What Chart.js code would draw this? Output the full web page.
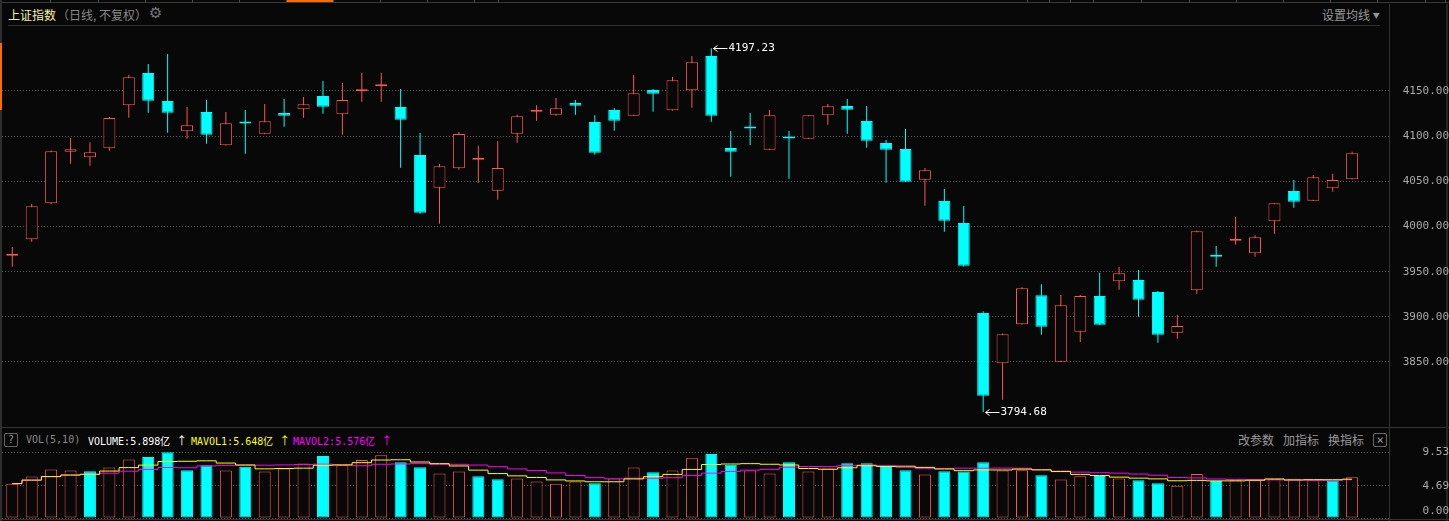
<!DOCTYPE html>
<html lang="zh-CN">
<head>
<meta charset="utf-8">
<title>上证指数（日线，不复权）</title>
<script src="https://cdn.jsdelivr.net/npm/chart.js@4/dist/chart.umd.min.js"></script>
<style>
  html, body { margin: 0; padding: 0; }
  body {
    width: 1449px; height: 521px; overflow: hidden; position: relative;
    background: #080808;
    font-family: "Noto Sans CJK SC", "DejaVu Sans", sans-serif;
  }
  .line { position: absolute; background: #333; }
  .txt { position: absolute; white-space: nowrap; line-height: 14px; font-size: 12px; }
  .mono { font-family: "DejaVu Sans Mono", monospace; font-size: 10px; }
  .arr { font-family: "Noto Sans CJK SC", sans-serif; font-size: 11px; }
  .box {
    position: absolute; box-sizing: border-box; border: 1px solid #666; border-radius: 2px;
    color: #999; font-size: 10px; line-height: 12px; text-align: center;
    font-family: "DejaVu Sans Mono", monospace;
  }
  canvas { position: absolute; left: 0; }
  #priceCanvas { top: 23px; }
  #volCanvas { top: 407px; }
</style>
</head>
<body>
<div id="tabs"></div>
<div class="line" style="left:0;top:0;width:2px;height:521px;background:#2e2e2e"></div>
<div class="line" style="left:0;top:43px;width:2px;height:67px;background:#ff6a00"></div>

<div class="txt" style="left:8px;top:8px;color:#f4f0a0">上证指数</div>
<div class="txt" style="left:57px;top:8px;color:#888">（日线, 不复权）</div>
<div class="txt" style="left:149px;top:6px;font-size:15px;color:#777;font-family:'DejaVu Sans'">⚙</div>
<div class="txt" style="left:1322px;top:8px;color:#999">设置均线 <span style="font-size:7px;vertical-align:2px">▼</span></div>
<div class="line" style="left:8px;top:25px;width:1372px;height:1px"></div>

<div class="line" style="left:0;top:427px;width:1449px;height:1px"></div>
<div class="box" style="left:4px;top:433px;width:14px;height:14px">?</div>
<div class="txt mono" style="left:26px;top:433px;color:#8a8a8a">VOL(5,10)</div>
<div class="txt mono" style="left:88px;top:433px;color:#ffffff">VOLUME:5.898亿 <span class="arr">↑</span></div>
<div class="txt mono" style="left:191px;top:433px;color:#ffff00">MAVOL1:5.648亿 <span class="arr">↑</span></div>
<div class="txt mono" style="left:293px;top:433px;color:#ff00ff">MAVOL2:5.576亿 <span class="arr">↑</span></div>
<div class="txt" style="left:1238px;top:433px;color:#999">改参数</div>
<div class="txt" style="left:1283px;top:433px;color:#999">加指标</div>
<div class="txt" style="left:1328px;top:433px;color:#999">换指标</div>
<div class="box" style="left:1373px;top:433px;width:14px;height:14px;font-size:12px">×</div>

<div class="line" style="left:1389px;top:4px;width:1px;height:517px"></div>
<div class="line" style="left:1446px;top:4px;width:2px;height:517px;background:#262626"></div>
<div class="line" style="left:0;top:519px;width:1449px;height:1px"></div>

<canvas id="priceCanvas" width="1449" height="414"></canvas>
<canvas id="volCanvas" width="1449" height="156"></canvas>

<script>
// 日K线数据（开、高、低、收），成交量单位：亿
const opens = [
  3967.5, 3985.8, 4025.7, 4082.8, 4076.6, 4086.6, 4134.2, 4169.9, 4138.9, 4105.4,
  4126.8, 4089.9, 4115.5, 4102.7, 4125.6, 4129.7, 4144.5, 4124.2, 4149.7, 4155.2,
  4132.3, 4079.2, 4042.9, 4064.4, 4074.0, 4039.6, 4102.7, 4127.0, 4123.8, 4136.7,
  4115.7, 4129.0, 4122.7, 4151.1, 4128.6, 4150.8, 4188.7, 4086.9, 4109.6, 4085.0,
  4098.5, 4097.2, 4123.1, 4133.4, 4116.8, 4092.4, 4085.8, 4051.8, 4028.2, 4003.9,
  3904.2, 3848.6, 3891.7, 3923.8, 3850.3, 3883.5, 3923.1, 3939.3, 3940.8, 3927.5,
  3882.4, 3929.4, 3967.5, 3984.3, 3970.3, 4005.8, 4039.3, 4028.6, 4042.3, 4052.3
];
const highs = [
  3977.3, 4024.9, 4084.0, 4098.0, 4093.2, 4121.2, 4167.7, 4179.9, 4191.0, 4132.3,
  4140.0, 4126.8, 4129.0, 4135.6, 4141.1, 4143.4, 4161.1, 4158.9, 4169.9, 4169.9,
  4152.2, 4103.5, 4069.2, 4104.6, 4089.4, 4094.6, 4123.8, 4134.2, 4142.3, 4140.0,
  4123.1, 4131.2, 4167.7, 4152.2, 4165.5, 4188.7, 4197.23, 4105.7, 4125.6, 4129.0,
  4105.7, 4123.5, 4135.6, 4141.1, 4133.4, 4095.8, 4107.9, 4064.8, 4041.5, 4022.7,
  3906.1, 3881.5, 3932.7, 3936.0, 3924.2, 3924.2, 3948.9, 3955.2, 3951.8, 3928.6,
  3902.4, 3995.5, 3978.4, 4010.5, 3990.3, 4026.0, 4051.5, 4057.0, 4058.5, 4082.8
];
const lows = [
  3955.5, 3983.2, 4025.0, 4069.5, 4067.3, 4083.9, 4120.4, 4126.0, 4103.8, 4097.2,
  4091.7, 4089.5, 4080.6, 4102.2, 4110.5, 4120.4, 4124.9, 4101.6, 4138.2, 4138.2,
  4065.1, 4014.2, 4003.1, 4062.9, 4048.5, 4029.7, 4092.8, 4117.1, 4122.7, 4123.8,
  4079.5, 4106.1, 4122.2, 4127.1, 4128.2, 4131.5, 4116.0, 4055.1, 4090.2, 4084.6,
  4052.9, 4096.8, 4112.7, 4102.7, 4087.2, 4048.5, 4049.3, 4023.0, 3994.2, 3955.5,
  3794.68, 3808.3, 3891.3, 3880.2, 3849.9, 3872.1, 3890.9, 3930.0, 3900.1, 3871.4,
  3875.8, 3925.6, 3955.5, 3979.9, 3966.6, 3992.0, 4020.8, 4028.2, 4038.5, 4052.0
];
const closes = [
  3968.5, 4022.4, 4083.2, 4085.5, 4082.1, 4120.1, 4165.2, 4139.3, 4126.0, 4112.0,
  4101.6, 4114.2, 4113.9, 4116.5, 4122.7, 4135.3, 4132.6, 4140.0, 4151.1, 4157.4,
  4118.2, 4015.3, 4066.6, 4102.4, 4075.5, 4064.8, 4122.0, 4128.0, 4130.8, 4133.7,
  4081.7, 4117.1, 4147.4, 4147.0, 4161.8, 4181.8, 4122.7, 4082.8, 4108.5, 4123.1,
  4097.5, 4123.1, 4133.1, 4129.3, 4095.0, 4085.0, 4049.6, 4062.2, 4006.4, 3956.6,
  3812.7, 3880.7, 3931.6, 3889.1, 3912.8, 3923.1, 3891.3, 3948.2, 3919.0, 3880.2,
  3889.9, 3994.7, 3966.5, 3986.5, 3988.0, 4025.7, 4027.5, 4054.5, 4051.5, 4081.0
];
const volumes = [
  4.98, 6.01, 7.03, 6.89, 6.79, 7.33, 8.50, 8.84, 9.53, 6.93,
  7.67, 6.89, 7.42, 6.74, 7.18, 7.91, 8.98, 7.67, 8.40, 9.09,
  8.10, 7.37, 6.45, 6.74, 6.05, 5.61, 5.72, 5.28, 4.98, 5.28,
  5.03, 5.72, 7.33, 6.64, 6.89, 8.65, 9.28, 7.71, 6.89, 6.45,
  8.10, 6.74, 7.18, 7.96, 7.96, 7.56, 6.93, 6.30, 6.79, 6.74,
  8.10, 6.89, 6.93, 6.20, 5.57, 6.05, 6.10, 5.72, 5.47, 5.03,
  4.69, 6.39, 5.36, 5.47, 5.47, 5.64, 5.68, 5.54, 5.43, 5.898
];
const priceTicks = [3850, 3900, 3950, 4000, 4050, 4100, 4150];
const volTicks = [0, 4.69, 9.53];

// 颜色和布局
const BG = '#080808';
const UP = '#ff5555';
const DOWN = '#00ffff';
const GRID = '#555555';
const AXIS_TEXT = '#a8a8a8';
const AXIS_W = 60;
const X_MIN = -0.53;
const X_MAX = 70.9;

// 顶部标签栏的分隔线
const tabEdges = [50, 98, 145, 192, 239, 286, 333, 380, 427, 474, 498,
  1027, 1049, 1070, 1093, 1141, 1189, 1236, 1283, 1330, 1377, 1425, 1445];
const tabs = document.getElementById('tabs');
tabs.innerHTML = '<div class="line" style="left:0;top:2px;width:1449px;height:1px;background:#3a3a3a"></div>' +
  '<div class="line" style="left:287px;top:0;width:46px;height:2px;background:#ff6a00"></div>' +
  tabEdges.map(x => '<div class="line" style="left:' + x + 'px;top:0;width:1px;height:3px;background:#4a4a4a"></div>').join('');

const idx = closes.map((_, i) => i);
const isUp = i => closes[i] >= opens[i];
const volUp = i => i === 0 || closes[i] >= closes[i - 1];

function movingAverage(values, n) {
  return values.map((_, i) => {
    const win = values.slice(Math.max(0, i - n + 1), i + 1);
    return win.reduce((a, b) => a + b, 0) / win.length;
  });
}
const ma5 = movingAverage(volumes, 5);
const ma10 = movingAverage(volumes, 10);

function xAxis() {
  return { type: 'linear', display: false, min: X_MIN, max: X_MAX, bounds: 'data', offset: false };
}
function gridStyle() {
  return { color: GRID, drawTicks: false, lineWidth: 1 };
}
const tickFont = { family: 'DejaVu Sans Mono', size: 11 };

// 最高价 / 最低价标注
const extremeLabels = {
  id: 'extremeLabels',
  afterDatasetsDraw(chart) {
    const xs = chart.scales.x, ys = chart.scales.y, ctx = chart.ctx;
    const hi = highs.indexOf(Math.max(...highs));
    const lo = lows.indexOf(Math.min(...lows));
    ctx.save();
    ctx.strokeStyle = '#ffffff';
    ctx.fillStyle = '#ffffff';
    ctx.lineWidth = 1;
    ctx.font = '11px "DejaVu Sans Mono"';
    ctx.textBaseline = 'middle';
    [[hi, highs[hi]], [lo, lows[lo]]].forEach(([i, v]) => {
      const x = Math.round(xs.getPixelForValue(i)) + 2.5;
      const y = Math.round(ys.getPixelForValue(v)) + 0.5;
      ctx.beginPath();
      ctx.moveTo(x + 14, y);
      ctx.lineTo(x, y);
      ctx.moveTo(x + 4, y - 3);
      ctx.lineTo(x, y);
      ctx.lineTo(x + 4, y + 3);
      ctx.stroke();
      ctx.fillText(v.toFixed(2), x + 15, y);
    });
    ctx.restore();
  }
};

// K线图：绘图区 y 43..417
new Chart(document.getElementById('priceCanvas'), {
  type: 'bar',
  data: {
    datasets: [{
      label: '实体',
      order: 0,
      data: idx.map(i => ({ x: i, y: [Math.min(opens[i], closes[i]), Math.max(opens[i], closes[i])] })),
      backgroundColor: idx.map(i => isUp(i) ? BG : DOWN),
      borderColor: idx.map(i => isUp(i) ? UP : DOWN),
      borderWidth: 1,
      borderSkipped: false,
      barThickness: 12,
      minBarLength: 2,
      grouped: false,
      inflateAmount: 0
    }, {
      label: '影线',
      order: 1,
      data: idx.map(i => ({ x: i, y: [lows[i], highs[i]] })),
      backgroundColor: idx.map(i => isUp(i) ? UP : DOWN),
      borderWidth: 0,
      barThickness: 1,
      grouped: false,
      inflateAmount: 0
    }]
  },
  options: {
    responsive: false,
    animation: false,
    devicePixelRatio: 1,
    events: [],
    layout: { padding: { left: 2, right: 0, top: 20, bottom: 20 } },
    plugins: { legend: { display: false }, tooltip: { enabled: false } },
    scales: {
      x: xAxis(),
      y: {
        position: 'right',
        min: 3789.1,
        max: 4203.1,
        bounds: 'data',
        afterFit: s => { s.width = AXIS_W; },
        afterBuildTicks: s => { s.ticks = priceTicks.map(v => ({ value: v })); },
        grid: gridStyle(),
        border: { display: false, dash: [1, 2] },
        ticks: {
          color: AXIS_TEXT, font: tickFont, padding: 6, crossAlign: 'far',
          callback: v => Number(v).toFixed(2)
        }
      }
    }
  },
  plugins: [extremeLabels]
});

// 成交量图：绘图区 y 447..518
new Chart(document.getElementById('volCanvas'), {
  type: 'bar',
  data: {
    datasets: [{
      type: 'line',
      label: 'MAVOL1',
      order: 0,
      data: idx.map(i => ({ x: i, y: ma5[i] })),
      borderColor: '#ffff00',
      borderWidth: 1,
      pointRadius: 0,
      stepped: 'middle',
      fill: false
    }, {
      type: 'line',
      label: 'MAVOL2',
      order: 0,
      data: idx.map(i => ({ x: i, y: ma10[i] })),
      borderColor: '#ff00ff',
      borderWidth: 1,
      pointRadius: 0,
      stepped: 'middle',
      fill: false
    }, {
      label: 'VOLUME',
      order: 1,
      data: idx.map(i => ({ x: i, y: volumes[i] })),
      backgroundColor: idx.map(i => volUp(i) ? BG : DOWN),
      borderColor: idx.map(i => volUp(i) ? UP : DOWN),
      borderWidth: 1,
      borderSkipped: false,
      barThickness: 12,
      grouped: false,
      inflateAmount: 0
    }]
  },
  options: {
    responsive: false,
    animation: false,
    devicePixelRatio: 1,
    events: [],
    layout: { padding: { left: 2, right: 0, top: 40, bottom: 45 } },
    plugins: { legend: { display: false }, tooltip: { enabled: false } },
    scales: {
      x: xAxis(),
      y: {
        position: 'right',
        min: 0,
        max: 10.3,
        bounds: 'data',
        afterFit: s => { s.width = AXIS_W; },
        afterBuildTicks: s => { s.ticks = volTicks.map(v => ({ value: v })); },
        grid: gridStyle(),
        border: { display: false, dash: [1, 2] },
        ticks: {
          color: AXIS_TEXT, font: tickFont, padding: 25, crossAlign: 'far',
          callback: v => v === 0 ? ['0.00', ''] : Number(v).toFixed(2)
        }
      }
    }
  }
});
</script>
</body>
</html>
